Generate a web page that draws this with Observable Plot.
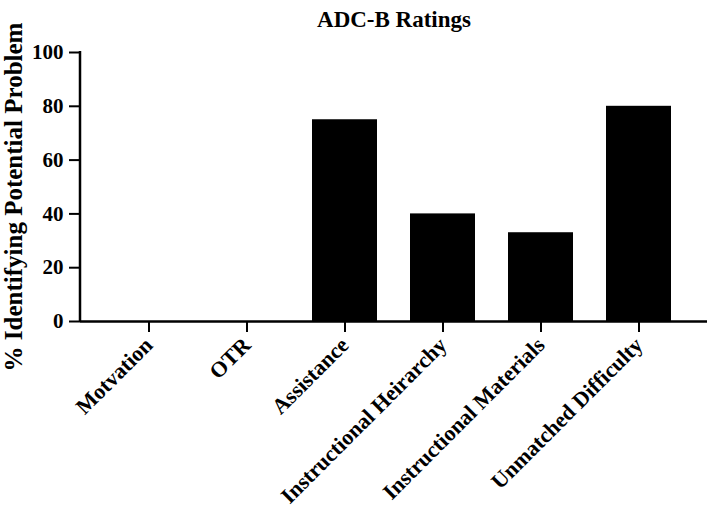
<!DOCTYPE html>
<html>
<head>
<meta charset="utf-8">
<script src="https://cdn.jsdelivr.net/npm/d3@7"></script>
<script src="https://cdn.jsdelivr.net/npm/@observablehq/plot@0.6"></script>
<style>
  html, body { margin: 0; padding: 0; background: #fff; }
</style>
</head>
<body>
<div id="chart"></div>
<script>
const title = "ADC-B Ratings";
const yLabel = "% Identifying Potential Problem";
const categories = ["Motvation", "OTR", "Assistance", "Instructional Heirarchy", "Instructional Materials", "Unmatched Difficulty"];
const values = [0, 0, 75, 40, 33, 80];
const yTicks = [0, 20, 40, 60, 80, 100];

const data = categories.map((c, i) => ({category: c, value: values[i]}));

function yAxisLine(index, scales, values, dimensions) {
  const g = d3.create("svg:g");
  const x = dimensions.marginLeft;
  g.append("line")
    .attr("x1", x).attr("x2", x)
    .attr("y1", scales.y(100) - 1).attr("y2", scales.y(0) + 1)
    .attr("stroke", "#000").attr("stroke-width", 2.5);
  return g.node();
}

const chart = Plot.plot({
  width: 708,
  height: 511,
  marginTop: 52,
  marginBottom: 190,
  marginLeft: 80,
  marginRight: 1,
  style: {fontFamily: "'Liberation Serif', 'Times New Roman', serif", fontWeight: "bold", fontSize: "21px", color: "#000", background: "#fff"},
  x: {domain: categories, padding: 0.34, label: null},
  y: {domain: [0, 100], label: null},
  marks: [
    Plot.barY(data, {x: "category", y: "value", fill: "#000"}),
    Plot.axisX({tickRotate: -45, tickSize: 11, tickPadding: 9, strokeWidth: 2, label: null, fontSize: 22}),
    Plot.axisY({ticks: yTicks, tickSize: 11, tickPadding: 6, strokeWidth: 2, label: null, fontSize: 21}),
    Plot.ruleY([0], {strokeWidth: 2.5}),
    yAxisLine,
    Plot.text([title], {frameAnchor: "top", dy: -42, fontSize: 23, fontWeight: "bold", text: d => d}),
    Plot.text([yLabel], {frameAnchor: "left", textAnchor: "middle", dx: -67, dy: 10, rotate: -90, fontSize: 25, fontWeight: "bold", text: d => d})
  ]
});
document.getElementById("chart").appendChild(chart);
</script>
</body>
</html>
